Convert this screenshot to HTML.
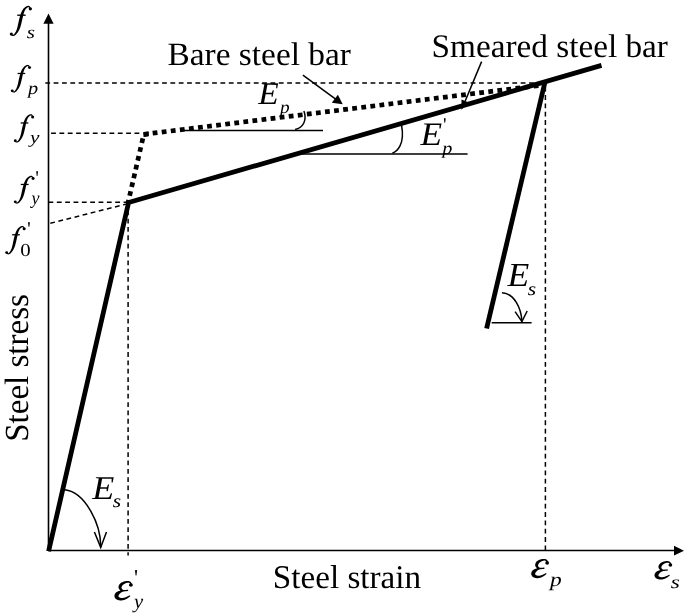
<!DOCTYPE html>
<html><head><meta charset="utf-8">
<style>
html,body{margin:0;padding:0;background:#fff;width:685px;height:615px;overflow:hidden}
svg{display:block;will-change:transform}
text{font-family:"Liberation Serif",serif;fill:#000;text-rendering:geometricPrecision}
</style></head><body>
<svg width="685" height="615" viewBox="0 0 685 615">
<defs><g id="fg"><path d="M19.79,1.95 L19.75,1.86 L19.69,1.74 L19.62,1.58 L19.55,1.39 L19.46,1.19 L19.36,0.97 L19.26,0.76 L19.15,0.54 L19.03,0.33 L18.89,0.13 L18.74,-0.06 L18.56,-0.23 L18.38,-0.35 L18.20,-0.44 L18.02,-0.51 L17.82,-0.56 L17.63,-0.59 L17.44,-0.59 L17.25,-0.58 L17.06,-0.55 L16.87,-0.51 L16.69,-0.46 L16.50,-0.41 L16.31,-0.34 L16.11,-0.26 L15.91,-0.17 L15.69,-0.06 L15.47,0.05 L15.24,0.18 L15.00,0.32 L14.77,0.47 L14.53,0.64 L14.30,0.81 L14.07,1.00 L13.84,1.20 L13.62,1.41 L13.42,1.62 L13.22,1.85 L13.02,2.08 L12.83,2.32 L12.64,2.57 L12.46,2.83 L12.28,3.10 L12.10,3.37 L11.93,3.66 L11.77,3.94 L11.60,4.24 L11.45,4.54 L11.29,4.85 L11.15,5.16 L11.01,5.48 L10.87,5.80 L10.74,6.13 L10.62,6.47 L10.49,6.81 L10.37,7.16 L10.26,7.51 L10.14,7.88 L10.02,8.26 L9.90,8.65 L9.77,9.06 L9.65,9.50 L9.53,9.94 L9.40,10.40 L9.28,10.87 L9.16,11.34 L9.05,11.82 L8.93,12.29 L8.82,12.77 L8.70,13.24 L8.60,13.71 L8.49,14.17 L8.38,14.64 L8.28,15.12 L8.18,15.60 L8.09,16.09 L7.99,16.57 L7.90,17.04 L7.81,17.51 L7.72,17.96 L7.63,18.40 L7.54,18.83 L7.45,19.24 L7.36,19.62 L7.26,20.00 L7.16,20.37 L7.07,20.72 L6.97,21.07 L6.87,21.40 L6.77,21.73 L6.67,22.05 L6.57,22.36 L6.46,22.66 L6.35,22.96 L6.23,23.25 L6.11,23.54 L5.99,23.82 L5.86,24.09 L5.73,24.37 L5.59,24.63 L5.44,24.89 L5.30,25.15 L5.16,25.39 L5.01,25.62 L4.87,25.83 L4.73,26.03 L4.59,26.21 L4.46,26.38 L4.34,26.52 L4.22,26.65 L4.10,26.76 L3.98,26.86 L3.87,26.95 L3.75,27.03 L3.64,27.10 L3.53,27.16 L3.43,27.21 L3.32,27.25 L3.22,27.28 L3.14,27.30 L3.10,27.31 L3.04,27.31 L2.97,27.30 L2.88,27.27 L2.77,27.22 L2.67,27.17 L2.56,27.11 L2.45,27.05 L2.35,26.98 L2.24,26.92 L2.14,26.85 L2.05,26.81 L1.55,27.79 L1.59,27.81 L1.65,27.85 L1.74,27.91 L1.84,27.98 L1.97,28.07 L2.11,28.15 L2.26,28.24 L2.43,28.32 L2.61,28.40 L2.81,28.46 L3.03,28.50 L3.26,28.50 L3.45,28.48 L3.63,28.45 L3.81,28.41 L3.99,28.35 L4.18,28.28 L4.37,28.20 L4.56,28.11 L4.76,28.00 L4.95,27.88 L5.15,27.74 L5.34,27.59 L5.54,27.42 L5.73,27.24 L5.93,27.05 L6.12,26.84 L6.32,26.61 L6.52,26.38 L6.72,26.13 L6.93,25.87 L7.12,25.60 L7.32,25.33 L7.51,25.05 L7.70,24.76 L7.89,24.46 L8.06,24.17 L8.24,23.87 L8.41,23.56 L8.58,23.25 L8.75,22.92 L8.92,22.59 L9.08,22.25 L9.24,21.90 L9.40,21.54 L9.55,21.17 L9.70,20.78 L9.84,20.38 L9.99,19.95 L10.13,19.51 L10.26,19.06 L10.39,18.59 L10.51,18.12 L10.64,17.65 L10.75,17.17 L10.87,16.69 L10.98,16.22 L11.09,15.75 L11.20,15.29 L11.31,14.83 L11.42,14.36 L11.53,13.89 L11.63,13.41 L11.74,12.93 L11.84,12.45 L11.94,11.97 L12.03,11.50 L12.13,11.04 L12.22,10.60 L12.32,10.16 L12.41,9.75 L12.50,9.35 L12.60,8.97 L12.69,8.59 L12.77,8.23 L12.86,7.88 L12.94,7.55 L13.02,7.22 L13.10,6.91 L13.19,6.60 L13.27,6.31 L13.36,6.02 L13.45,5.74 L13.55,5.46 L13.66,5.19 L13.76,4.91 L13.87,4.64 L13.99,4.38 L14.10,4.13 L14.22,3.88 L14.34,3.64 L14.46,3.41 L14.59,3.19 L14.71,2.98 L14.85,2.78 L14.98,2.59 L15.11,2.42 L15.26,2.25 L15.41,2.08 L15.58,1.92 L15.75,1.76 L15.92,1.61 L16.10,1.47 L16.27,1.34 L16.44,1.22 L16.60,1.11 L16.75,1.02 L16.89,0.94 L17.02,0.87 L17.14,0.81 L17.25,0.76 L17.35,0.73 L17.44,0.70 L17.51,0.69 L17.58,0.68 L17.64,0.68 L17.69,0.68 L17.74,0.69 L17.79,0.71 L17.84,0.73 L17.89,0.76 L17.96,0.84 L18.05,0.96 L18.14,1.11 L18.24,1.28 L18.34,1.47 L18.43,1.66 L18.52,1.85 L18.60,2.03 L18.68,2.19 L18.75,2.34 L18.81,2.45Z"/><circle cx="19.3" cy="2.3" r="1.55"/><circle cx="1.6" cy="26.6" r="1.45"/><rect x="7.1" y="7.8" width="7.8" height="1.3"/></g><g id="eps"><path d="M16.42,2.67 L16.38,2.58 L16.33,2.47 L16.27,2.32 L16.20,2.13 L16.11,1.93 L16.02,1.71 L15.91,1.48 L15.79,1.24 L15.65,1.01 L15.49,0.78 L15.30,0.56 L15.08,0.36 L14.87,0.21 L14.66,0.08 L14.45,-0.03 L14.22,-0.13 L13.98,-0.22 L13.74,-0.29 L13.49,-0.36 L13.24,-0.41 L12.98,-0.45 L12.71,-0.47 L12.43,-0.49 L12.15,-0.50 L11.86,-0.49 L11.56,-0.48 L11.24,-0.45 L10.92,-0.42 L10.59,-0.37 L10.26,-0.32 L9.93,-0.25 L9.59,-0.18 L9.26,-0.09 L8.93,-0.00 L8.61,0.10 L8.29,0.21 L7.99,0.33 L7.69,0.46 L7.38,0.59 L7.08,0.74 L6.77,0.90 L6.47,1.07 L6.18,1.24 L5.89,1.44 L5.61,1.64 L5.34,1.86 L5.09,2.09 L4.85,2.34 L4.62,2.61 L4.42,2.88 L4.24,3.16 L4.07,3.46 L3.92,3.75 L3.79,4.06 L3.67,4.36 L3.58,4.67 L3.50,4.99 L3.44,5.30 L3.41,5.62 L3.40,5.95 L3.42,6.28 L3.47,6.60 L3.56,6.91 L3.66,7.21 L3.78,7.48 L3.92,7.75 L4.08,8.00 L4.24,8.23 L4.41,8.45 L4.60,8.66 L4.78,8.85 L4.98,9.03 L5.20,9.21 L5.42,9.37 L5.66,9.51 L5.90,9.64 L6.14,9.75 L6.38,9.84 L6.63,9.93 L6.87,10.01 L7.11,10.07 L7.35,10.13 L7.58,10.18 L7.82,10.23 L8.07,10.27 L8.32,10.29 L8.56,10.31 L8.80,10.31 L9.04,10.31 L9.27,10.30 L9.50,10.28 L9.72,10.27 L9.94,10.25 L10.15,10.23 L10.35,10.21 L10.55,10.20 L10.77,10.18 L10.99,10.16 L11.22,10.13 L11.46,10.10 L11.68,10.07 L11.91,10.04 L12.12,10.01 L12.32,9.98 L12.50,9.95 L12.66,9.93 L12.79,9.91 L12.90,9.89 L12.70,8.51 L12.59,8.52 L12.45,8.54 L12.28,8.57 L12.10,8.60 L11.91,8.63 L11.71,8.66 L11.49,8.69 L11.28,8.72 L11.06,8.75 L10.85,8.77 L10.65,8.79 L10.45,8.80 L10.24,8.81 L10.03,8.83 L9.82,8.85 L9.62,8.87 L9.41,8.88 L9.21,8.89 L9.02,8.89 L8.83,8.89 L8.65,8.88 L8.49,8.85 L8.33,8.82 L8.18,8.77 L8.02,8.71 L7.85,8.63 L7.69,8.55 L7.52,8.45 L7.37,8.35 L7.22,8.24 L7.08,8.13 L6.95,8.01 L6.84,7.90 L6.75,7.78 L6.68,7.67 L6.62,7.57 L6.56,7.45 L6.51,7.31 L6.46,7.17 L6.42,7.03 L6.39,6.88 L6.37,6.74 L6.35,6.60 L6.35,6.47 L6.35,6.35 L6.36,6.24 L6.38,6.14 L6.40,6.05 L6.42,5.95 L6.45,5.83 L6.49,5.69 L6.54,5.53 L6.59,5.37 L6.65,5.21 L6.72,5.04 L6.80,4.87 L6.88,4.71 L6.97,4.55 L7.06,4.40 L7.15,4.26 L7.26,4.12 L7.38,3.97 L7.52,3.81 L7.68,3.65 L7.85,3.48 L8.04,3.31 L8.24,3.14 L8.44,2.98 L8.66,2.82 L8.87,2.67 L9.09,2.52 L9.31,2.39 L9.52,2.26 L9.76,2.14 L10.00,2.02 L10.26,1.90 L10.52,1.79 L10.79,1.69 L11.05,1.60 L11.32,1.51 L11.57,1.44 L11.81,1.38 L12.04,1.33 L12.25,1.30 L12.44,1.28 L12.64,1.27 L12.82,1.27 L13.00,1.28 L13.17,1.30 L13.33,1.33 L13.49,1.37 L13.63,1.41 L13.77,1.46 L13.90,1.52 L14.02,1.58 L14.12,1.64 L14.19,1.69 L14.28,1.77 L14.38,1.89 L14.48,2.03 L14.58,2.19 L14.68,2.37 L14.78,2.55 L14.87,2.73 L14.96,2.90 L15.04,3.06 L15.12,3.21 L15.18,3.33Z M8.46,9.12 L8.32,9.13 L8.13,9.13 L7.91,9.14 L7.65,9.15 L7.37,9.17 L7.06,9.19 L6.74,9.21 L6.41,9.24 L6.07,9.29 L5.72,9.34 L5.38,9.41 L5.04,9.50 L4.73,9.59 L4.41,9.69 L4.09,9.80 L3.77,9.91 L3.44,10.04 L3.11,10.18 L2.78,10.33 L2.46,10.49 L2.15,10.66 L1.84,10.85 L1.55,11.06 L1.27,11.28 L1.02,11.52 L0.79,11.76 L0.57,12.02 L0.36,12.29 L0.17,12.57 L-0.01,12.86 L-0.17,13.17 L-0.31,13.50 L-0.42,13.84 L-0.51,14.19 L-0.58,14.57 L-0.60,14.96 L-0.58,15.34 L-0.53,15.71 L-0.44,16.06 L-0.32,16.41 L-0.18,16.73 L-0.02,17.05 L0.17,17.34 L0.38,17.63 L0.61,17.90 L0.86,18.15 L1.13,18.39 L1.42,18.61 L1.72,18.81 L2.03,18.98 L2.35,19.12 L2.68,19.25 L3.00,19.36 L3.34,19.45 L3.67,19.53 L4.01,19.60 L4.35,19.65 L4.69,19.70 L5.02,19.73 L5.36,19.74 L5.70,19.75 L6.05,19.73 L6.39,19.71 L6.73,19.67 L7.07,19.62 L7.40,19.57 L7.74,19.50 L8.06,19.42 L8.38,19.34 L8.70,19.25 L9.00,19.16 L9.30,19.06 L9.60,18.95 L9.89,18.82 L10.18,18.69 L10.46,18.56 L10.72,18.41 L10.98,18.26 L11.24,18.11 L11.48,17.96 L11.72,17.80 L11.96,17.65 L12.19,17.49 L12.42,17.34 L12.67,17.17 L12.92,16.98 L13.18,16.78 L13.43,16.58 L13.68,16.38 L13.93,16.18 L14.16,15.98 L14.37,15.80 L14.57,15.63 L14.74,15.48 L14.89,15.35 L15.01,15.25 L14.39,14.35 L14.25,14.42 L14.07,14.52 L13.87,14.64 L13.65,14.77 L13.41,14.90 L13.15,15.05 L12.88,15.20 L12.61,15.34 L12.34,15.49 L12.07,15.62 L11.82,15.75 L11.58,15.86 L11.33,15.97 L11.09,16.09 L10.84,16.20 L10.60,16.31 L10.36,16.41 L10.12,16.51 L9.88,16.60 L9.64,16.69 L9.41,16.77 L9.17,16.83 L8.94,16.89 L8.70,16.94 L8.45,16.99 L8.18,17.03 L7.91,17.07 L7.64,17.10 L7.37,17.13 L7.10,17.15 L6.83,17.16 L6.57,17.16 L6.31,17.15 L6.07,17.13 L5.85,17.10 L5.64,17.06 L5.43,17.00 L5.21,16.94 L4.99,16.86 L4.78,16.78 L4.56,16.69 L4.36,16.59 L4.18,16.48 L4.01,16.37 L3.86,16.27 L3.74,16.16 L3.64,16.07 L3.58,15.99 L3.54,15.91 L3.50,15.83 L3.46,15.73 L3.43,15.63 L3.41,15.53 L3.39,15.43 L3.38,15.33 L3.38,15.25 L3.38,15.17 L3.38,15.11 L3.39,15.07 L3.40,15.04 L3.40,15.03 L3.41,14.98 L3.42,14.92 L3.44,14.83 L3.47,14.72 L3.51,14.60 L3.56,14.46 L3.62,14.32 L3.69,14.17 L3.76,14.02 L3.84,13.87 L3.93,13.72 L4.01,13.57 L4.12,13.40 L4.25,13.21 L4.41,13.02 L4.57,12.82 L4.75,12.61 L4.95,12.41 L5.15,12.20 L5.35,12.01 L5.56,11.83 L5.76,11.65 L5.96,11.50 L6.14,11.37 L6.36,11.24 L6.60,11.11 L6.86,10.99 L7.13,10.87 L7.40,10.76 L7.67,10.66 L7.93,10.57 L8.17,10.49 L8.39,10.41 L8.58,10.34 L8.74,10.28Z"/><circle cx="15.5" cy="3.7" r="1.9"/></g></defs>
<!-- axes -->
<g stroke="#000" stroke-width="1.6" fill="none">
<line x1="48.5" y1="550.5" x2="48.5" y2="22"/>
<line x1="48" y1="550.5" x2="676" y2="550.5"/>
</g>
<polygon points="48.5,13.4 43.4,23.8 53.6,23.8" fill="#000"/>
<polygon points="684,550.7 674,545.8 674,555.6" fill="#000"/>

<!-- thin dashed guide lines -->
<g stroke="#000" stroke-width="1.5" fill="none" stroke-dasharray="4.8 3.54">
<line x1="45.3" y1="82.9" x2="545" y2="82.9"/>
<line x1="51.1" y1="133.3" x2="141.5" y2="133.3"/>
<line x1="48.5" y1="202.3" x2="128" y2="202.3"/>
<line x1="50.3" y1="223.3" x2="128" y2="203.6"/>
<line x1="128.1" y1="202" x2="128.1" y2="555.5"/>
<line x1="545.4" y1="83" x2="545.4" y2="550" stroke-dashoffset="4.58"/>
</g>

<!-- thin solid lines -->
<g stroke="#000" stroke-width="1.5" fill="none">
<line x1="182.8" y1="130.5" x2="323" y2="130.5"/>
<line x1="301" y1="154.1" x2="467.6" y2="154.1"/>
<line x1="491.7" y1="322.7" x2="531.6" y2="322.7"/>
<path d="M295.1,129.6 C303.2,127.7 307.3,120.1 303.9,111.1"/>
<path d="M392.3,153.2 C396.5,152 405.2,145 401.6,125.5"/>
<path d="M64.8,489.8 C85.7,492.2 101.2,525.2 100.7,547.4"/>
<path d="M501.9,292.7 C513.8,292.9 521.4,308.1 521.9,321.6"/>
<path d="M94.4,532 L100.7,547.4 L106.5,532"/>
<path d="M515.1,311.7 L521.9,321.6 L527.2,311"/>
<line x1="302.9" y1="75.1" x2="336" y2="99.3"/>
<line x1="481.6" y1="61.6" x2="465.2" y2="101"/>
</g>
<polygon points="342.7,104.2 331.8,102.7 337.9,94.8" fill="#000"/>
<polygon points="461.45,109.8 461.5,99.4 468.9,102.4" fill="#000"/>

<!-- thick dotted: bare steel bar -->
<line x1="128.1" y1="202.5" x2="143.8" y2="134.3" stroke="#000" stroke-width="4.7" stroke-dasharray="4.8 4.23" stroke-dashoffset="2.2"/>
<line x1="143.8" y1="134.3" x2="545" y2="84.8" stroke="#000" stroke-width="4.7" stroke-dasharray="4.8 4.34" stroke-dashoffset="0.2"/>
<polygon points="143.2,132.2 148.8,131.6 148.8,136.3 143.6,136.9" fill="#000"/>

<!-- thick solid -->
<g stroke="#000" stroke-width="4.8" fill="none" stroke-linejoin="round">
<polyline points="48.6,551.2 128.6,202.5 601.5,65.4"/>
<line x1="545" y1="82" x2="486.6" y2="328.5"/>
</g>

<!-- labels -->
<g id="L_fs_f" transform="translate(9.60,6.43) scale(1.0748,1.0396)"><use href="#fg"/></g>
<g id="L_fs_s" transform="translate(26.66,37.57) scale(1.1729,0.9846)"><text x="0" y="0" style="font-style:italic;font-size:18px">s</text></g>
<g id="L_fp_f" transform="translate(10.66,65.43) scale(0.9777,0.9531)"><use href="#fg"/></g>
<g id="L_fp_p" transform="translate(27.89,93.81) scale(1.1236,0.9986)"><text x="0" y="0" style="font-style:italic;font-size:18px">p</text></g>
<g id="L_fy_f" transform="translate(13.73,114.71) scale(0.9804,0.9782)"><use href="#fg"/></g>
<g id="L_fy_y" transform="translate(30.05,142.90) scale(1.1849,0.9722)"><text x="0" y="0" style="font-style:italic;font-size:18px">y</text></g>
<g id="L_fy2_f" transform="translate(13.67,176.35) scale(1.0048,0.9576)"><use href="#fg"/></g>
<g id="L_fy2_y" transform="translate(31.58,203.76) scale(1.0015,1.0259)"><text x="0" y="0" style="font-style:italic;font-size:18px">y</text></g>
<g id="L_f0_f" transform="translate(5.08,226.50) scale(0.9897,0.9794)"><use href="#fg"/></g>
<g id="L_f0_0" transform="translate(20.19,256.24) scale(1.1592,1.0182)"><text x="0" y="0" style="font-size:18px">0</text></g>
<g id="L_bare" transform="translate(167.45,65.28) scale(1.0059,0.9832)"><text x="0" y="0" style="font-size:33.2px">Bare steel bar</text></g>
<g id="L_smear" transform="translate(431.61,56.65) scale(1.0017,0.9899)"><text x="0" y="0" style="font-size:33.2px">Smeared steel bar</text></g>
<g id="L_strain" transform="translate(272.86,587.84) scale(0.9992,0.9957)"><text x="0" y="0" style="font-size:33.2px">Steel strain</text></g>
<g id="L_Ep_E" transform="translate(258.33,103.96) scale(1.0799,1.0206)"><text x="0" y="0" style="font-style:italic;font-size:31px">E</text></g>
<g id="L_Ep_p" transform="translate(279.99,112.83) scale(1.0709,1.0025)"><text x="0" y="0" style="font-style:italic;font-size:18px">p</text></g>
<g id="L_Ep2_E" transform="translate(420.42,144.95) scale(1.1408,1.0622)"><text x="0" y="0" style="font-style:italic;font-size:31px">E</text></g>
<g id="L_Ep2_p" transform="translate(442.18,153.75) scale(1.1244,0.9928)"><text x="0" y="0" style="font-style:italic;font-size:18px">p</text></g>
<g id="L_Es1_E" transform="translate(507.56,286.46) scale(1.1485,1.0864)"><text x="0" y="0" style="font-style:italic;font-size:31px">E</text></g>
<g id="L_Es1_s" transform="translate(527.64,294.71) scale(1.1957,1.0247)"><text x="0" y="0" style="font-style:italic;font-size:18px">s</text></g>
<g id="L_Es0_E" transform="translate(92.16,498.54) scale(1.1638,1.0766)"><text x="0" y="0" style="font-style:italic;font-size:31px">E</text></g>
<g id="L_Es0_s" transform="translate(112.64,507.25) scale(1.1957,1.0247)"><text x="0" y="0" style="font-style:italic;font-size:18px">s</text></g>
<g id="L_ey_e" transform="translate(115.02,581.45) scale(1.0246,0.9629)"><use href="#eps"/></g>
<g id="L_ey_y" transform="translate(133.90,608.31) scale(1.1464,1.1243)"><text x="0" y="0" style="font-style:italic;font-size:18px">y</text></g>
<g id="L_ep_e" transform="translate(531.79,559.38) scale(0.9903,0.9520)"><use href="#eps"/></g>
<g id="L_ep_p" transform="translate(550.00,586.43) scale(1.3015,1.1062)"><text x="0" y="0" style="font-style:italic;font-size:18px">p</text></g>
<g id="L_es_e" transform="translate(655.08,561.51) scale(0.9868,0.9145)"><use href="#eps"/></g>
<g id="L_es_s" transform="translate(670.75,588.14) scale(1.2998,1.0173)"><text x="0" y="0" style="font-style:italic;font-size:18px">s</text></g>
<path d="M36.20,171.40 Q37.10,170.60 38.00,171.40 L37.46,176.00 L36.74,176.00 Z"/>
<path d="M28.00,222.50 Q28.95,221.70 29.90,222.50 L29.33,226.70 L28.57,226.70 Z"/>
<path d="M443.90,118.40 Q444.80,117.60 445.70,118.40 L445.16,122.70 L444.44,122.70 Z"/>
<path d="M135.00,570.30 Q136.05,569.50 137.10,570.30 L136.47,575.60 L135.63,575.60 Z"/>
<g id="L_stress" transform="translate(27.67,441.84) scale(1.0170,0.9956)"><text x="0" y="0" style="font-size:33.2px" transform="rotate(-90)">Steel stress</text></g>
</svg>
</body></html>
